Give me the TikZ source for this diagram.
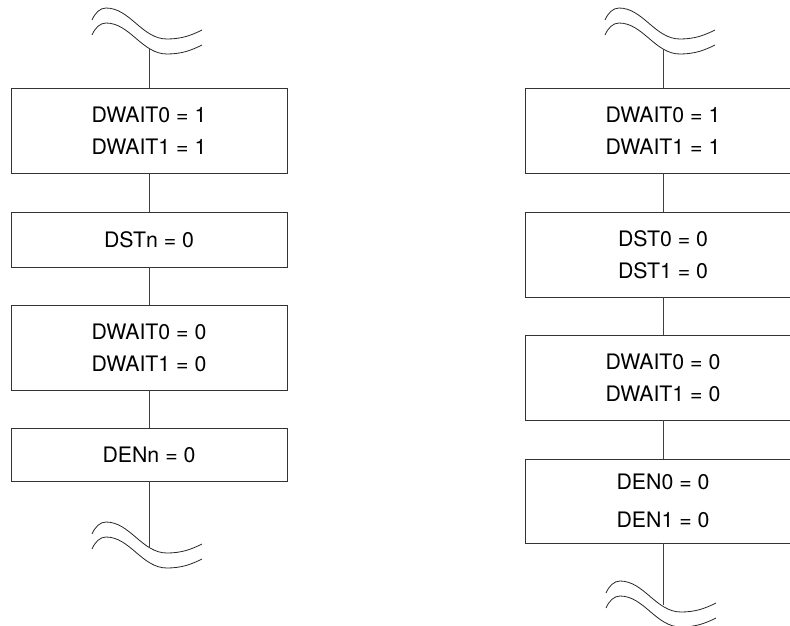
\documentclass[tikz,border=0pt]{standalone}
\usepackage{fontspec}
\setmainfont{TeX Gyre Heros}
\begin{document}
\begin{tikzpicture}[x=1pt,y=-1pt,
  box/.style={draw=black!80, line width=0.7pt, minimum width=276pt, inner sep=0pt,
    align=center, font=\fontsize{21.3}{32}\selectfont},
  link/.style={draw=black!75, line width=0.7pt},
  wv/.style={draw=black!85, line width=0.8pt},
  brk/.pic={
    \draw[wv] (0,0) .. controls (3,-7) and (8,-12) .. (14,-12)
      .. controls (38,-12) and (50,19) .. (75,19)
      .. controls (90,19) and (100,15) .. (110,10);
    \draw[wv] (0,15) .. controls (3,8) and (8,3) .. (14,3)
      .. controls (38,3) and (50,34) .. (75,34)
      .. controls (90,34) and (100,30) .. (110,25);
  }]
\clip (0,0) rectangle (790,625);
\useasboundingbox (0,0) rectangle (790,625);

% left column
\pic at (92,20) {brk};
\coordinate (tl) at (149,49);
\node[box, minimum height=85pt] (L1) at (149,130.5) {DWAIT0 = 1\\DWAIT1 = 1};
\node[box, minimum height=55pt] (L2) at (149,239.5) {DSTn = 0};
\node[box, minimum height=85pt] (L3) at (149,347.5) {DWAIT0 = 0\\DWAIT1 = 0};
\node[box, minimum height=53pt] (L4) at (149,454.5) {DENn = 0};
\coordinate (bl) at (149,547);
\pic at (92,534) {brk};
\draw[link] (tl) -- (L1);
\draw[link] (L1) -- (L2);
\draw[link] (L2) -- (L3);
\draw[link] (L3) -- (L4);
\draw[link] (L4) -- (bl);

% right column
\pic at (605,20) {brk};
\coordinate (tr) at (663,49);
\node[box, minimum height=85pt] (R1) at (663,130.5) {DWAIT0 = 1\\DWAIT1 = 1};
\node[box, minimum height=85pt] (R2) at (663,254.5) {DST0 = 0\\DST1 = 0};
\node[box, minimum height=85pt] (R3) at (663,377.5) {DWAIT0 = 0\\DWAIT1 = 0};
\node[box, minimum height=84pt] (R4) at (663,501) {DEN0 = 0\\[6pt]DEN1 = 0};
\coordinate (br) at (663,605);
\pic at (606,593) {brk};
\draw[link] (tr) -- (R1);
\draw[link] (R1) -- (R2);
\draw[link] (R2) -- (R3);
\draw[link] (R3) -- (R4);
\draw[link] (R4) -- (br);
\end{tikzpicture}
\end{document}
